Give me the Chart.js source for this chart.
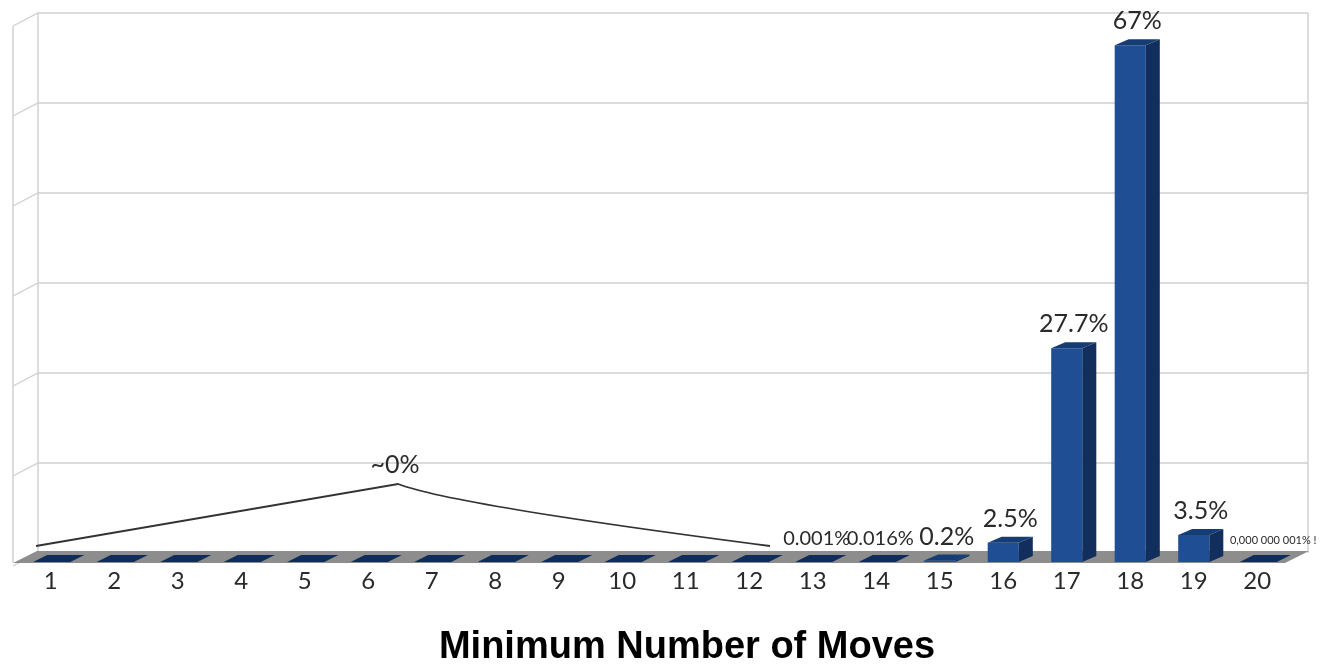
<!DOCTYPE html>
<html>
<head>
<meta charset="utf-8">
<script src="https://cdn.jsdelivr.net/npm/chart.js@4.4.0/dist/chart.umd.min.js"></script>
<style>
html,body{margin:0;padding:0;background:#fff;}
#wrap{width:1330px;height:670px;position:relative;}
</style>
</head>
<body>
<div id="wrap"><canvas id="c" width="1330" height="670"></canvas></div>
<script>
// ---- data ----
const categories = ['1','2','3','4','5','6','7','8','9','10','11','12','13','14','15','16','17','18','19','20'];
const percentValues = [0,0,0,0,0,0,0,0,0,0,0,0,0.001,0.016,0.2,2.5,27.7,67,3.5,0.000000001];
const valueLabels = ['','','','','','','','','','','','','0.001%','0.016%','0.2%','2.5%','27.7%','67%','3.5%','0,000 000 001% !'];
const groupLabel = '~0%';
const groupFirst = 0;   // index of category "1"
const groupLast = 11;   // index of category "12"
const axisMax = 70;
const axisSteps = 6;
const xTitle = 'Minimum Number of Moves';

const FRONT = '#1F4E94', SIDE = '#112E5C', TOP = '#163C74';
const BDX = 14, BDY = 6;     // bar depth
const WDX = 24, WDY = 9;     // wall depth
const LABEL_FONT = 'Lato';

const scene3d = {
  id: 'scene3d',
  beforeDatasetsDraw(chart) {
    const ctx = chart.ctx, a = chart.chartArea, ys = chart.scales.y;
    ctx.save();
    ctx.strokeStyle = '#cfcfcf';
    ctx.lineWidth = 1.4;
    const bl = a.left + 19, br = a.right + 19;
    for (let k = 0; k <= axisSteps; k++) {
      const yb = ys.getPixelForValue(axisMax * k / axisSteps) - WDY;
      ctx.beginPath();
      ctx.moveTo(bl - 25, yb + 13);
      ctx.lineTo(bl, yb);
      if (k > 0) ctx.lineTo(br, yb);
      ctx.stroke();
    }
    const topB = ys.getPixelForValue(axisMax) - WDY;
    const botB = ys.getPixelForValue(0) - WDY;
    ctx.beginPath();
    ctx.moveTo(bl, topB); ctx.lineTo(bl, botB);
    ctx.moveTo(br, topB); ctx.lineTo(br, botB);
    ctx.moveTo(bl - 25, topB + 13); ctx.lineTo(bl - 25, a.bottom + 1);
    ctx.stroke();
    const fy = a.bottom + 1;
    ctx.fillStyle = '#8d8d8d';
    ctx.beginPath();
    ctx.moveTo(a.left - 6, fy);
    ctx.lineTo(a.right - 4, fy);
    ctx.lineTo(a.right - 4 + WDX, fy - 12);
    ctx.lineTo(a.left - 6 + WDX, fy - 12);
    ctx.closePath();
    ctx.fill();
    ctx.restore();
  },
  afterDatasetsDraw(chart) {
    const ctx = chart.ctx, a = chart.chartArea, xs = chart.scales.x;
    const meta = chart.getDatasetMeta(0);
    ctx.save();
    meta.data.forEach((el, i) => {
      const p = el.getProps(['x','y','base','width'], true);
      const l = p.x - p.width / 2, r = p.x + p.width / 2;
      const tall = p.base - p.y > 0.5;
      if (tall) {
        ctx.fillStyle = SIDE;
        ctx.beginPath();
        ctx.moveTo(r, p.y); ctx.lineTo(r + BDX, p.y - BDY);
        ctx.lineTo(r + BDX, p.base - BDY); ctx.lineTo(r, p.base);
        ctx.closePath(); ctx.fill();
        ctx.fillStyle = TOP;
        ctx.beginPath();
        ctx.moveTo(l, p.y); ctx.lineTo(r, p.y);
        ctx.lineTo(r + BDX, p.y - BDY); ctx.lineTo(l + BDX, p.y - BDY);
        ctx.closePath(); ctx.fill();
      } else {
        ctx.fillStyle = '#0F2C5A';
        ctx.beginPath();
        ctx.moveTo(l - 2, p.base); ctx.lineTo(r + 4, p.base);
        ctx.lineTo(r + BDX + 4, p.base - 7); ctx.lineTo(l + BDX - 2, p.base - 7);
        ctx.closePath(); ctx.fill();
      }
      const txt = valueLabels[i];
      if (txt) {
        ctx.fillStyle = '#2a2a2a';
        ctx.textAlign = 'center';
        ctx.textBaseline = 'middle';
        if (i === categories.length - 1) {
          ctx.font = '11px ' + LABEL_FONT;
          ctx.fillText(txt, p.x + 16, p.y - 22);
        } else if (percentValues[i] < 0.1) {
          ctx.font = '20px ' + LABEL_FONT;
          ctx.fillText(txt, p.x + 4, p.y - 23);
        } else {
          ctx.font = '25px ' + LABEL_FONT;
          ctx.fillText(txt, p.x + 7, p.y - 24);
        }
      }
    });
    const cw = xs.width / categories.length;
    const x0 = xs.getPixelForValue(groupFirst) - cw / 2 + 17;
    const x1 = xs.getPixelForValue(groupLast) + cw / 2 - 11;
    const xm = (x0 + x1) / 2 - 5;
    const yb = a.bottom - 16, yp = a.bottom - 78;
    ctx.strokeStyle = '#333';
    ctx.lineWidth = 1.8;
    ctx.beginPath();
    ctx.moveTo(x0, yb);
    ctx.lineTo(xm, yp);
    ctx.quadraticCurveTo(xm + 55, yp + 21, x1, yb);
    ctx.stroke();
    ctx.fillStyle = '#2a2a2a';
    ctx.font = '25px ' + LABEL_FONT;
    ctx.textAlign = 'center';
    ctx.textBaseline = 'middle';
    ctx.fillText(groupLabel, xm - 3, yp - 19);
    ctx.fillStyle = '#000';
    ctx.font = 'bold 38px "Liberation Sans"';
    ctx.fillText(xTitle, (a.left + a.right) / 2 + 33, 648);
    ctx.restore();
  }
};

const yTicks = [];
for (let k = 0; k <= axisSteps; k++) yTicks.push(axisMax * k / axisSteps);

new Chart(document.getElementById('c'), {
  type: 'bar',
  data: {
    labels: categories,
    datasets: [{
      data: percentValues,
      backgroundColor: FRONT,
      borderWidth: 0,
      categoryPercentage: 1,
      barPercentage: 0.49
    }]
  },
  options: {
    responsive: false,
    animation: false,
    devicePixelRatio: 1,
    layout: { padding: { left: 19, right: 41, top: 22, bottom: 0 } },
    plugins: { legend: { display: false }, tooltip: { enabled: false } },
    scales: {
      x: {
        grid: { display: false },
        border: { display: false },
        ticks: { color: '#2a2a2a', font: { family: LABEL_FONT, size: 24 }, padding: -3, maxRotation: 0 },
        afterFit(s) { s.height = 108; }
      },
      y: {
        display: false,
        min: 0,
        max: axisMax,
        afterBuildTicks(s) { s.ticks = yTicks.map(v => ({ value: v })); }
      }
    }
  },
  plugins: [scene3d]
});
</script>
</body>
</html>
